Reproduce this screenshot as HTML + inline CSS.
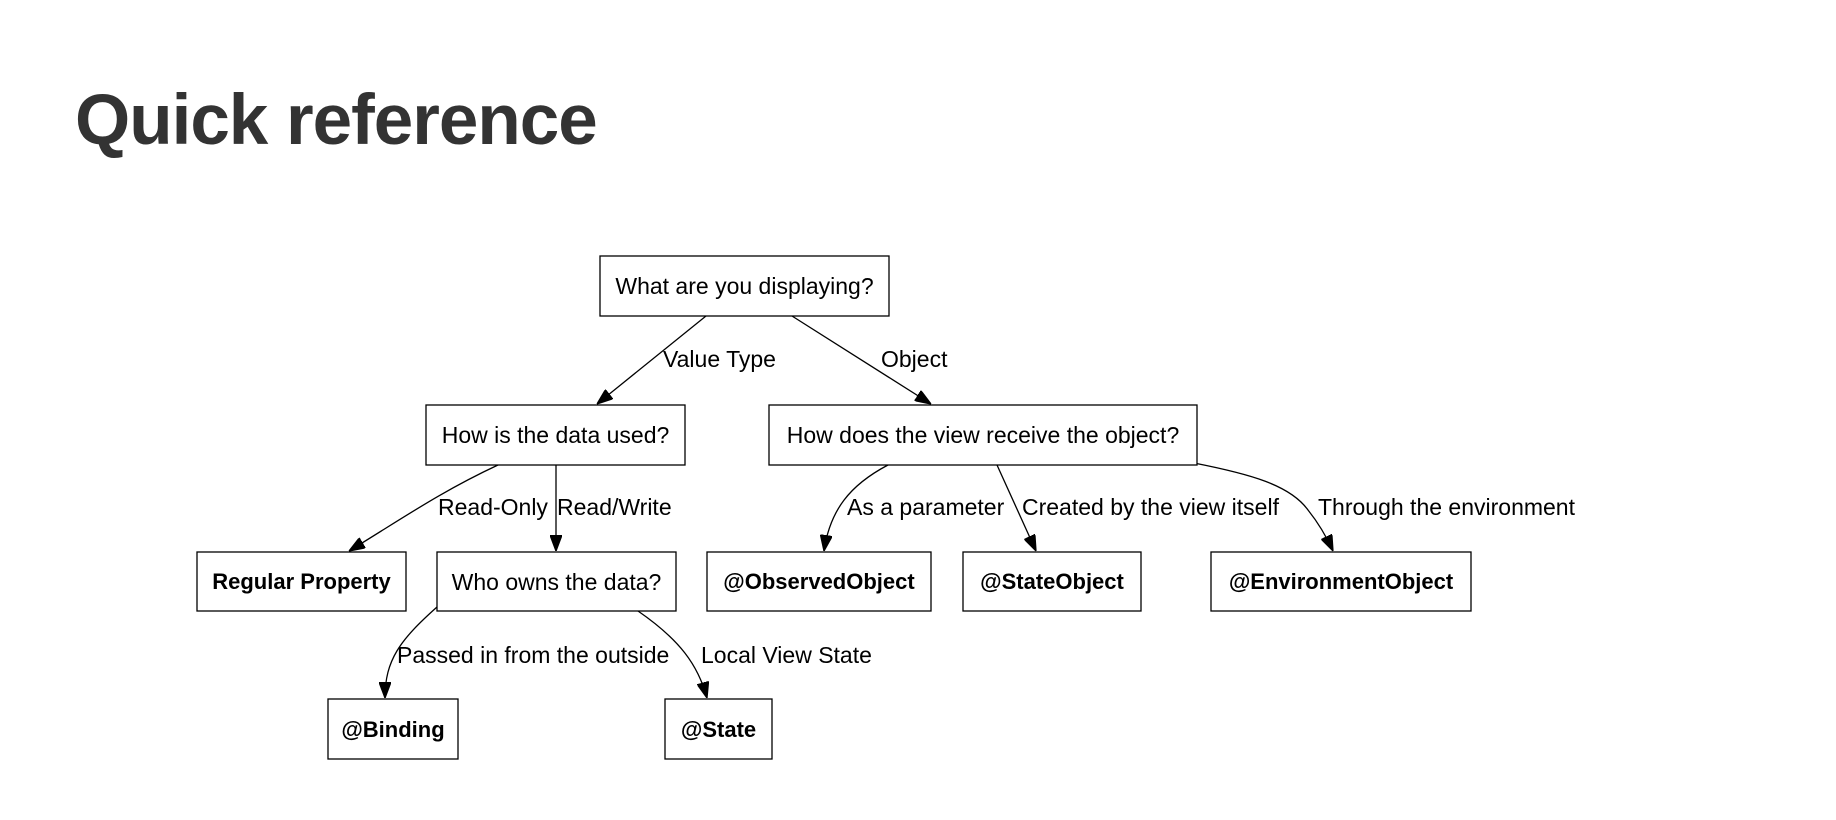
<!DOCTYPE html>
<html><head><meta charset="utf-8"><style>
html,body{margin:0;padding:0;background:#fff;}
body{width:1836px;height:820px;position:relative;overflow:hidden;font-family:"Liberation Sans",sans-serif;}
h1{position:absolute;left:75px;top:80px;margin:0;font-size:71px;font-weight:bold;color:#333;letter-spacing:-1px;}
svg{position:absolute;left:0;top:0;}
text{font-family:"Liberation Sans",sans-serif;font-size:23px;fill:#000;}
.b{font-weight:bold;font-size:22px;}
rect{fill:#fff;stroke:#000;stroke-width:1.3;}
path{fill:none;stroke:#000;stroke-width:1.3;}
</style></head><body>
<h1>Quick reference</h1>
<svg width="1836" height="820">
<defs><marker id="a" markerWidth="16" markerHeight="12" refX="16" refY="6" orient="auto" markerUnits="userSpaceOnUse"><path d="M0,0 L16,6 L0,12 z" style="fill:#000;stroke:#000"/></marker></defs>
<path d="M706,316 L597,404" marker-end="url(#a)"/>
<path d="M792,316 L931,404" marker-end="url(#a)"/>
<path d="M498,465 C440,492 400,520 349,551" marker-end="url(#a)"/>
<path d="M556,465 L556,551" marker-end="url(#a)"/>
<path d="M888,465 C850,485 830,510 824,551" marker-end="url(#a)"/>
<path d="M997,465 L1036,551" marker-end="url(#a)"/>
<path d="M1194,463 C1250,474 1290,485 1308,510 C1320,525 1328,540 1333,551" marker-end="url(#a)"/>
<path d="M437,607 C400,640 385,660 385,698" marker-end="url(#a)"/>
<path d="M638,611 C680,640 698,665 707,698" marker-end="url(#a)"/>
<text x="663" y="367">Value Type</text>
<text x="881" y="367">Object</text>
<text x="438" y="515">Read-Only</text>
<text x="557" y="515">Read/Write</text>
<text x="847" y="515">As a parameter</text>
<text x="1022" y="515">Created by the view itself</text>
<text x="1318" y="515">Through the environment</text>
<text x="397" y="663">Passed in from the outside</text>
<text x="701" y="663">Local View State</text>
<rect x="600" y="256" width="289" height="60"/><text x="744.5" y="294" text-anchor="middle">What are you displaying?</text>
<rect x="426" y="405" width="259" height="60"/><text x="555.5" y="443" text-anchor="middle">How is the data used?</text>
<rect x="769" y="405" width="428" height="60"/><text x="983" y="443" text-anchor="middle">How does the view receive the object?</text>
<rect x="197" y="552" width="209" height="59"/><text class="b" x="301.5" y="589" text-anchor="middle">Regular Property</text>
<rect x="437" y="552" width="239" height="59"/><text x="556.5" y="590" text-anchor="middle">Who owns the data?</text>
<rect x="707" y="552" width="224" height="59"/><text class="b" x="819" y="589" text-anchor="middle">@ObservedObject</text>
<rect x="963" y="552" width="178" height="59"/><text class="b" x="1052" y="589" text-anchor="middle">@StateObject</text>
<rect x="1211" y="552" width="260" height="59"/><text class="b" x="1341" y="589" text-anchor="middle">@EnvironmentObject</text>
<rect x="328" y="699" width="130" height="60"/><text class="b" x="393" y="737" text-anchor="middle">@Binding</text>
<rect x="665" y="699" width="107" height="60"/><text class="b" x="718.5" y="737" text-anchor="middle">@State</text>
</svg>
</body></html>
